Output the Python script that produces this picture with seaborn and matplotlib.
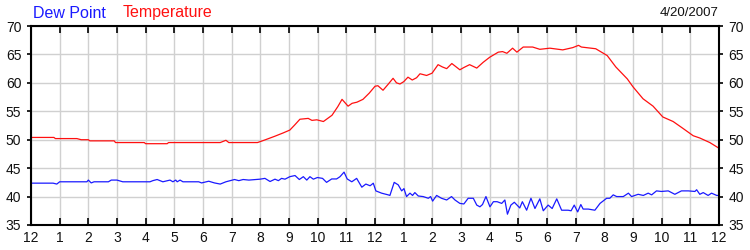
import matplotlib
matplotlib.use("Agg")
import matplotlib.pyplot as plt
import seaborn as sns
import pandas as pd

temp_hours = [0, 0.8, 0.85, 1.6, 1.75, 2.0, 2.05, 2.9, 2.95, 3.95, 4.0, 4.75, 4.8, 6.6, 6.8, 6.9, 7.9,
              8.1, 8.5, 8.8, 9.03, 9.2, 9.38, 9.67, 9.8, 9.97, 10.2, 10.5, 10.7, 10.85, 11.06, 11.2,
              11.37, 11.58, 11.8, 12.0, 12.1, 12.28, 12.45, 12.63, 12.75, 12.87, 13.0, 13.15, 13.3,
              13.45, 13.57, 13.8, 13.99, 14.2, 14.35, 14.5, 14.68, 14.96, 15.1, 15.3, 15.55, 15.77,
              16.0, 16.3, 16.45, 16.6, 16.8, 16.95, 17.17, 17.5, 17.75, 18.1, 18.55, 18.9, 19.1,
              19.2, 19.7, 20.1, 20.4, 20.8, 21.0, 21.35, 21.7, 22.04, 22.4, 22.74, 23.1, 23.33,
              23.68, 24.0]
temp_values = [50.4, 50.4, 50.2, 50.2, 50.0, 50.0, 49.8, 49.8, 49.5, 49.5, 49.3, 49.3, 49.5, 49.5, 49.9, 49.5, 49.5,
               49.85, 50.6, 51.2, 51.7, 52.6, 53.6, 53.75, 53.4, 53.5, 53.2, 54.3, 55.8, 57.1, 55.9, 56.4,
               56.6, 57.1, 58.2, 59.4, 59.5, 58.7, 59.7, 60.8, 60.0, 59.8, 60.2, 61.0, 60.5,
               60.9, 61.6, 61.3, 61.7, 63.2, 62.8, 62.5, 63.4, 62.3, 62.7, 63.2, 62.6, 63.6,
               64.5, 65.4, 65.5, 65.2, 66.1, 65.4, 66.3, 66.3, 65.9, 66.1, 65.8, 66.2, 66.6,
               66.3, 66.0, 64.8, 62.8, 60.7, 59.3, 57.2, 55.9, 54.0, 53.2, 52.0, 50.7, 50.3,
               49.5, 48.5]

dew_hours = [0, 0.77, 0.9, 1.0, 1.95, 2.0, 2.1, 2.2, 2.7, 2.8, 3.0, 3.2, 4.15, 4.25, 4.4, 4.6, 4.85,
             4.95, 5.05, 5.1, 5.2, 5.3, 5.85, 5.95, 6.2, 6.4, 6.6, 6.8, 7.1, 7.25, 7.4, 7.6,
             7.99, 8.16, 8.34, 8.51, 8.63, 8.74, 8.86, 9.03, 9.21, 9.36, 9.50, 9.62, 9.73, 9.85,
             9.99, 10.17, 10.31, 10.49, 10.66, 10.78, 10.92, 11.03, 11.19, 11.36, 11.54, 11.68,
             11.83, 11.94, 12.03, 12.23, 12.46, 12.52, 12.67, 12.81, 12.93, 13.01, 13.10, 13.22,
             13.31, 13.39, 13.51, 13.68, 13.86, 13.94, 14.01, 14.15, 14.32, 14.50, 14.67, 14.79,
             14.96, 15.10, 15.25, 15.43, 15.55, 15.66, 15.75, 15.87, 16.01, 16.13, 16.26,
             16.42, 16.53, 16.62, 16.74, 16.86, 17.05, 17.14, 17.29, 17.44, 17.58, 17.75, 17.87,
             18.04, 18.18, 18.34, 18.51, 18.74, 18.84, 18.95, 19.07, 19.18, 19.26, 19.44, 19.67,
             19.85, 20.08, 20.19, 20.31, 20.43, 20.66, 20.84, 20.95, 21.18, 21.36, 21.53, 21.65,
             21.82, 21.99, 22.23, 22.46, 22.69, 22.93, 23.16, 23.22, 23.33, 23.45, 23.62, 23.74,
             23.92, 24.0]
dew_values = [42.36, 42.36, 42.2, 42.6, 42.6, 42.9, 42.4, 42.6, 42.6, 42.9, 42.9, 42.6, 42.6, 42.8, 43.0, 42.6, 42.9,
              42.6, 42.9, 42.6, 42.9, 42.6, 42.6, 42.4, 42.7, 42.4, 42.2, 42.6, 43.0, 42.8, 43.0, 42.9,
              43.06, 43.2, 42.65, 43.06, 42.8, 43.2, 43.06, 43.5, 43.7, 43.0, 43.5, 42.9, 43.5, 43.06,
              43.35, 43.2, 42.5, 43.1, 43.1, 43.5, 44.3, 43.1, 42.6, 43.2, 41.65, 42.2,
              41.9, 42.35, 41.0, 40.6, 40.3, 40.2, 42.5, 42.06, 41.0, 41.4, 40.0, 40.6,
              40.2, 40.7, 40.1, 40.0, 39.7, 40.0, 39.2, 40.2, 39.7, 39.4, 40.0, 39.4,
              38.8, 38.7, 39.7, 39.7, 38.5, 38.2, 38.6, 40.0, 38.2, 39.1, 39.1,
              38.8, 39.4, 36.9, 38.5, 39.0, 38.0, 39.1, 37.6, 39.7, 37.9, 39.6, 37.5,
              38.5, 37.9, 39.6, 37.6, 37.6, 37.5, 38.5, 37.3, 38.6, 37.8, 37.8, 37.6,
              38.8, 39.7, 39.7, 40.3, 40.0, 40.0, 40.6, 40.0, 40.4, 40.2, 40.6, 40.3,
              41.0, 40.9, 41.0, 40.4, 41.0, 41.0, 40.9, 41.2, 40.4, 40.7, 40.2, 40.6,
              40.2, 40.2]

x_ticks = list(range(0, 25))
x_labels = ["12", "1", "2", "3", "4", "5", "6", "7", "8", "9", "10", "11",
            "12", "1", "2", "3", "4", "5", "6", "7", "8", "9", "10", "11", "12"]
y_ticks = [35, 40, 45, 50, 55, 60, 65, 70]

sns.set_theme(style="white")
plt.rcParams['font.family'] = ['Liberation Sans', 'DejaVu Sans']

fig = plt.figure(figsize=(7.5, 2.5), dpi=100)
ax = fig.add_axes([31/750, 1-225/250, 688/750, (225-26)/250])

df_t = pd.DataFrame({"h": temp_hours, "v": temp_values})
df_d = pd.DataFrame({"h": dew_hours, "v": dew_values})
sns.lineplot(data=df_t, x="h", y="v", ax=ax, color="#ff1010", linewidth=0.9, estimator=None)
sns.lineplot(data=df_d, x="h", y="v", ax=ax, color="#1a1aff", linewidth=0.9, estimator=None)

ax.set_xlim(0, 24)
ax.set_ylim(35, 70)
ax.set_xticks(x_ticks)
ax.set_xticklabels(x_labels)
ax.set_yticks(y_ticks)
ax.set_xlabel("")
ax.set_ylabel("")
ax.grid(True, color="#d0d0d0", linewidth=1)
ax.set_axisbelow(True)
for s in ax.spines.values():
    s.set_color("black")
    s.set_linewidth(1.5)
ax.tick_params(axis="x", direction="in", length=5, width=1.2, color="black",
               top=True, bottom=True, labelsize=10, pad=4, labelcolor="#111111")
ax.tick_params(axis="y", direction="out", length=3, width=1.2, color="black",
               left=True, right=True, labelleft=True, labelright=True, labelsize=10, pad=4,
               labelcolor="#111111")

fig.text(33/750, 1-13/250, "Dew Point", color="#1a1aff", fontsize=11.5, va="center", ha="left")
fig.text(123/750, 1-13/250, "Temperature", color="#ff1010", fontsize=11.5, va="center", ha="left")
fig.text(719/750, 1-13/250, "4/20/2007", color="#111111", fontsize=9.5, va="center", ha="right")

fig.savefig("out.png", dpi=100, facecolor="white")
